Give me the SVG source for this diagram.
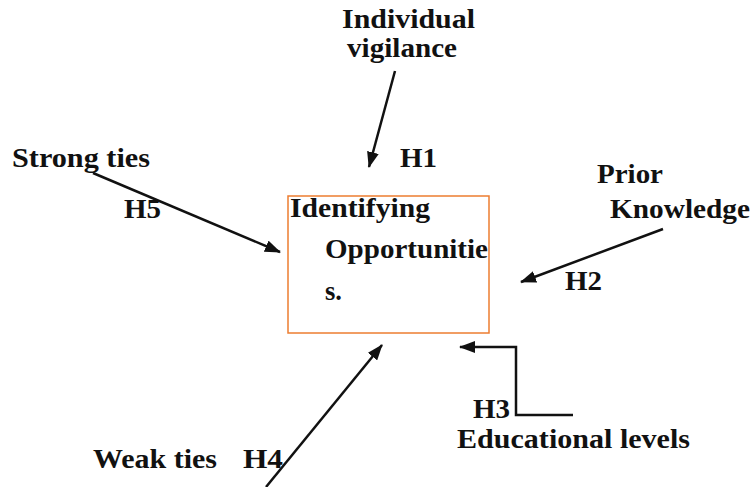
<svg xmlns="http://www.w3.org/2000/svg" width="754" height="487" viewBox="0 0 754 487">
<style>
text{font-family:"Liberation Serif","Times New Roman",serif;font-weight:bold;font-size:28px;fill:#111}
.c{fill:none;stroke:#111;stroke-width:2.5}
.box{fill:#fff;stroke:#ED7D31;stroke-width:1.5}
</style>
<defs>
<marker id="ah" markerUnits="userSpaceOnUse" markerWidth="16" markerHeight="12" refX="15" refY="6" orient="auto">
<path d="M0,0 L16,6 L0,12 z" fill="#111"/>
</marker>
</defs>
<rect width="754" height="487" fill="#fff"/>
<g id="center">
<rect class="box" x="288" y="196" width="201" height="137"/>
<text x="290" y="217" textLength="140" lengthAdjust="spacingAndGlyphs">Identifying</text>
<text x="325" y="258" textLength="163" lengthAdjust="spacingAndGlyphs">Opportunitie</text>
<text x="325" y="300" textLength="17" lengthAdjust="spacingAndGlyphs">s.</text>
</g>
<g id="vigilance">
<text x="342" y="28" textLength="133" lengthAdjust="spacingAndGlyphs">Individual</text>
<text x="347" y="57" textLength="110" lengthAdjust="spacingAndGlyphs">vigilance</text>
</g>
<g id="prior">
<text x="597" y="183" textLength="66" lengthAdjust="spacingAndGlyphs">Prior</text>
<text x="610" y="218" textLength="140" lengthAdjust="spacingAndGlyphs">Knowledge</text>
</g>
<g id="strong">
<text x="12" y="167" textLength="138" lengthAdjust="spacingAndGlyphs">Strong ties</text>
</g>
<g id="education">
<text x="457" y="448" textLength="233" lengthAdjust="spacingAndGlyphs">Educational levels</text>
</g>
<g id="weak">
<text x="93" y="468" textLength="124" lengthAdjust="spacingAndGlyphs">Weak ties</text>
</g>
<g id="labels">
<text x="400" y="167" textLength="37" lengthAdjust="spacingAndGlyphs">H1</text>
<text x="565" y="290" textLength="37" lengthAdjust="spacingAndGlyphs">H2</text>
<text x="473" y="418" textLength="37" lengthAdjust="spacingAndGlyphs">H3</text>
<text x="243" y="468" textLength="40" lengthAdjust="spacingAndGlyphs">H4</text>
<text x="124" y="218" textLength="37" lengthAdjust="spacingAndGlyphs">H5</text>
</g>
<g id="connectors">
<line class="c" x1="395" y1="71" x2="369" y2="167" marker-end="url(#ah)"/>
<line class="c" x1="93" y1="173" x2="280" y2="252" marker-end="url(#ah)"/>
<line class="c" x1="663" y1="229" x2="521" y2="282" marker-end="url(#ah)"/>
<polyline class="c" points="573,415 516,415 516,347 460,347" marker-end="url(#ah)"/>
<line class="c" x1="266" y1="487" x2="382" y2="345" marker-end="url(#ah)"/>
</g>
</svg>
